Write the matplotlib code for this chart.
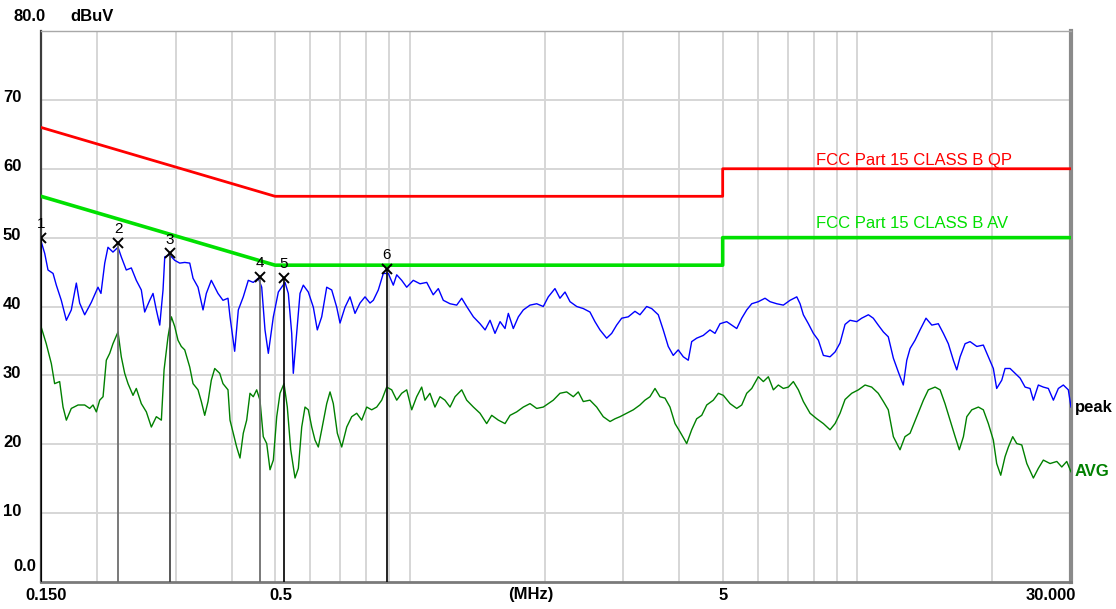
import matplotlib
matplotlib.use("Agg")
import matplotlib.pyplot as plt
import matplotlib.transforms as mtransforms

# -----------------------------
# Chart data
# -----------------------------
qp_freq = [0.15, 0.5, 5.0, 5.0, 30.0]
qp_level = [66, 56, 56, 60, 60]
av_freq = [0.15, 0.5, 5.0, 5.0, 30.0]
av_level = [56, 46, 46, 50, 50]

peak_freq = [
    0.150, 0.1529, 0.1555, 0.1596, 0.1623, 0.1665, 0.1709, 0.1753, 0.1799, 0.1830,
    0.1878, 0.1943, 0.2011, 0.2042, 0.2082, 0.2117, 0.2172, 0.2229, 0.2267, 0.2326,
    0.2387, 0.2449, 0.2513, 0.2557, 0.2624, 0.2669, 0.2715, 0.2763, 0.2810, 0.2835,
    0.2909, 0.2984, 0.3062, 0.3142, 0.3224, 0.3279, 0.3364, 0.3452, 0.3511, 0.3602,
    0.3728, 0.3825, 0.3925, 0.3966, 0.4062, 0.4139, 0.4246, 0.4357, 0.4470, 0.4587,
    0.4668, 0.4748, 0.4830, 0.4956, 0.5085, 0.5263, 0.5353, 0.5447, 0.5492, 0.5589,
    0.5685, 0.5782, 0.5933, 0.6088, 0.6214, 0.6356, 0.6522, 0.6692, 0.6866, 0.6984,
    0.7166, 0.7352, 0.7544, 0.7740, 0.7942, 0.8149, 0.8289, 0.8504, 0.8726, 0.8953,
    0.9186, 0.9349, 0.9592, 0.9842, 1.018, 1.054, 1.091, 1.128, 1.158, 1.188,
    1.230, 1.273, 1.306, 1.340, 1.387, 1.435, 1.473, 1.511, 1.550, 1.591,
    1.632, 1.660, 1.703, 1.748, 1.793, 1.856, 1.921, 1.987, 2.039, 2.110,
    2.165, 2.222, 2.280, 2.360, 2.441, 2.526, 2.592, 2.660, 2.753, 2.825,
    2.898, 2.974, 3.076, 3.184, 3.267, 3.382, 3.470, 3.590, 3.683, 3.779,
    3.877, 3.978, 4.083, 4.189, 4.263, 4.374, 4.525, 4.683, 4.806, 4.932,
    5.105, 5.238, 5.375, 5.515, 5.658, 5.806, 6.006, 6.217, 6.379, 6.603,
    6.831, 7.071, 7.320, 7.445, 7.572, 7.770, 7.972, 8.180, 8.393, 8.686,
    8.913, 9.145, 9.383, 9.627, 9.965, 10.22, 10.58, 10.85, 11.13, 11.43,
    11.72, 12.03, 12.34, 12.66, 12.89, 13.11, 13.45, 13.80, 14.23, 14.66,
    15.16, 15.56, 15.96, 16.38, 16.67, 16.96, 17.40, 17.85, 18.48, 19.11,
    19.61, 20.12, 20.47, 21.01, 21.37, 21.93, 22.50, 23.09, 23.69, 24.30,
    24.72, 25.36, 26.02, 26.70, 27.40, 28.11, 28.84, 29.59, 30.0,
]
peak_level = [
    49.5, 47.7, 45.3, 44.8, 43.1, 40.9, 38.0, 39.5, 43.4, 40.5,
    38.8, 40.6, 42.8, 41.9, 46.3, 48.6, 47.9, 48.6, 47.2, 45.3,
    45.6, 43.8, 42.4, 39.2, 40.9, 41.9, 39.5, 37.3, 42.4, 47.2,
    47.5, 46.7, 46.3, 46.4, 46.3, 44.1, 42.8, 39.5, 41.9, 43.8,
    41.9, 40.9, 41.2, 38.5, 33.5, 39.5, 41.4, 43.8, 43.5, 44.1,
    42.8, 36.6, 33.2, 38.5, 42.1, 43.5, 41.9, 36.1, 30.3, 36.1,
    41.9, 43.1, 42.1, 39.9, 36.6, 38.5, 42.8, 42.4, 39.9, 37.6,
    39.9, 41.4, 39.0, 40.5, 41.4, 40.5, 40.9, 42.4, 44.8, 44.8,
    43.1, 44.6, 43.8, 42.8, 43.8, 43.3, 43.5, 41.7, 42.6, 40.9,
    40.4, 40.2, 41.2, 40.0, 38.5, 37.5, 36.6, 38.0, 36.1, 37.8,
    36.8, 39.0, 36.8, 38.5, 39.5, 40.2, 40.4, 40.0, 41.4, 42.6,
    41.2, 42.1, 40.7, 40.0, 39.7, 39.2, 37.8, 36.6, 35.4, 36.1,
    37.3, 38.3, 38.5, 39.3, 38.8, 40.0, 39.7, 38.8, 36.6, 34.2,
    32.9, 33.7, 32.7, 32.2, 34.9, 35.4, 35.8, 36.6, 36.1, 37.5,
    37.8, 37.3, 36.8, 38.3, 39.5, 40.4, 40.7, 41.2, 40.7, 40.4,
    40.2, 40.9, 41.4, 40.4, 38.8, 37.5, 36.1, 35.1, 32.9, 32.7,
    33.4, 34.7, 37.4, 38.0, 37.8, 38.3, 38.8, 38.3, 37.3, 36.3,
    35.6, 32.5, 30.5, 28.6, 32.2, 33.9, 35.1, 36.6, 38.3, 37.3,
    37.5, 36.1, 34.6, 32.2, 30.8, 32.7, 34.6, 34.9, 34.2, 34.4,
    32.7, 31.0, 28.1, 29.3, 31.0, 31.0, 30.3, 29.6, 28.3, 28.1,
    26.4, 28.6, 28.3, 28.1, 26.4, 28.1, 28.6, 27.9, 25.4,
]

avg_freq = [
    0.150, 0.1541, 0.1582, 0.1609, 0.1651, 0.1680, 0.1709, 0.1753, 0.1815, 0.1878,
    0.1927, 0.1960, 0.1994, 0.2029, 0.2064, 0.2099, 0.2136, 0.2172, 0.2229, 0.2267,
    0.2307, 0.2347, 0.2408, 0.2449, 0.2513, 0.2579, 0.2646, 0.2715, 0.2786, 0.2825,
    0.2883, 0.2933, 0.2984, 0.3035, 0.3087, 0.3142, 0.3224, 0.3279, 0.3364, 0.3422,
    0.3482, 0.3542, 0.3602, 0.3666, 0.3761, 0.3825, 0.3925, 0.3966, 0.4033, 0.4104,
    0.4175, 0.4246, 0.4321, 0.4395, 0.4470, 0.4549, 0.4627, 0.4706, 0.4790, 0.4872,
    0.4956, 0.5043, 0.5129, 0.5236, 0.5325, 0.5420, 0.5541, 0.5636, 0.5735, 0.5833,
    0.5933, 0.6038, 0.6141, 0.6246, 0.6356, 0.6522, 0.6634, 0.6747, 0.6888, 0.7045,
    0.7229, 0.7417, 0.7610, 0.7809, 0.8012, 0.8220, 0.8435, 0.8654, 0.8880, 0.9111,
    0.9349, 0.9592, 0.9842, 1.010, 1.036, 1.063, 1.081, 1.109, 1.138, 1.168,
    1.198, 1.230, 1.262, 1.306, 1.340, 1.387, 1.435, 1.485, 1.524, 1.577,
    1.632, 1.675, 1.733, 1.793, 1.856, 1.921, 1.987, 2.039, 2.092, 2.165,
    2.241, 2.319, 2.379, 2.441, 2.526, 2.615, 2.705, 2.801, 2.874, 2.948,
    3.051, 3.157, 3.267, 3.352, 3.440, 3.530, 3.621, 3.716, 3.813, 3.913,
    4.015, 4.155, 4.263, 4.374, 4.489, 4.606, 4.765, 4.890, 5.017, 5.193,
    5.375, 5.515, 5.658, 5.806, 6.006, 6.164, 6.324, 6.489, 6.658, 6.831,
    7.009, 7.192, 7.380, 7.572, 7.838, 8.113, 8.393, 8.686, 8.913, 9.145,
    9.383, 9.711, 10.05, 10.40, 10.76, 11.13, 11.43, 11.72, 12.03, 12.45,
    12.77, 13.11, 13.57, 14.04, 14.40, 14.91, 15.30, 15.69, 16.10, 16.53,
    16.89, 17.25, 17.55, 18.01, 18.63, 19.11, 19.61, 20.12, 20.47, 20.90,
    21.37, 21.74, 22.23, 22.69, 23.29, 23.90, 24.72, 25.36, 26.02, 26.94,
    27.89, 28.61, 29.35, 30.0,
]
avg_level = [
    37.1, 34.6, 31.7, 28.8, 29.1, 25.4, 23.5, 25.2, 25.7, 25.7,
    25.2, 25.7, 24.7, 26.4, 26.9, 32.2, 33.2, 34.6, 36.3, 32.7,
    30.3, 28.8, 27.1, 28.1, 25.9, 24.7, 22.5, 24.0, 23.5, 30.8,
    35.6, 38.5, 37.1, 35.1, 34.2, 33.7, 31.2, 28.8, 27.9, 26.2,
    24.2, 26.2, 29.3, 31.0, 30.3, 28.8, 27.9, 23.5, 21.6, 19.6,
    18.0, 21.6, 23.5, 27.4, 26.9, 27.9, 26.4, 21.1, 20.1, 16.3,
    17.7, 24.0, 27.4, 28.8, 25.4, 19.2, 15.1, 16.5, 22.5, 25.4,
    25.0, 22.5, 20.6, 19.6, 22.1, 25.9, 27.6, 25.9, 21.6, 19.6,
    22.5, 24.0, 24.5, 23.5, 25.4, 25.0, 25.4, 26.4, 28.3, 27.9,
    26.4, 27.4, 27.9, 25.0, 26.9, 28.3, 26.4, 27.4, 25.4, 26.9,
    26.4, 25.4, 26.9, 27.9, 26.4, 25.4, 24.5, 23.0, 24.2, 23.5,
    23.0, 24.2, 24.7, 25.4, 25.9, 25.2, 25.4, 25.9, 26.4, 27.4,
    27.6, 26.9, 27.6, 26.2, 26.4, 25.4, 24.0, 23.3, 23.7, 24.0,
    24.5, 25.0, 25.7, 26.4, 26.9, 28.1, 26.9, 26.7, 25.4, 23.0,
    21.8, 20.1, 22.1, 23.7, 24.2, 25.7, 26.4, 27.4, 27.1, 25.9,
    25.2, 25.7, 27.4, 28.1, 29.8, 29.1, 29.8, 27.9, 28.6, 28.1,
    28.3, 29.1, 27.9, 26.2, 24.5, 23.7, 23.0, 22.1, 23.0, 24.5,
    26.5, 27.4, 27.9, 28.6, 28.3, 27.4, 26.2, 25.0, 21.1, 19.2,
    21.1, 21.6, 24.0, 26.4, 27.9, 28.3, 27.9, 25.9, 23.5, 21.1,
    19.2, 21.1, 24.0, 25.0, 25.4, 25.0, 23.0, 20.6, 17.2, 15.5,
    18.2, 19.6, 21.1, 20.1, 19.9, 17.2, 15.1, 16.5, 17.7, 17.2,
    17.5, 16.7, 17.5, 16.0,
]

marker_ids = ["1", "2", "3", "4", "5", "6"]
marker_freq = [0.150, 0.223, 0.291, 0.463, 0.523, 0.889]
marker_level = [49.9, 49.2, 47.7, 44.3, 44.1, 45.4]
marker_line_colors = ["#000000", "#6e6e6e", "#4a4a4a", "#6e6e6e", "#111111", "#111111"]

y_tick_values = [80, 70, 60, 50, 40, 30, 20, 10, 0]
y_tick_labels = ["80.0", "70", "60", "50", "40", "30", "20", "10", "0.0"]
x_tick_values = [0.15, 0.5, 5, 30]
x_tick_labels = ["0.150", "0.5", "5", "30.000"]

# -----------------------------
# Figure
# -----------------------------
W, H = 1116, 609
fig = plt.figure(figsize=(W / 100, H / 100), dpi=100)
ax = fig.add_axes([41 / W, 27 / H, 1030 / W, 551 / H])
ax.set_xscale("log")
ax.set_xlim(0.15, 30)
ax.set_ylim(0, 80)

# grid
grid_c = "#d6d6d6"
for lv in range(10, 80, 10):
    ax.axhline(lv, color=grid_c, lw=1.4, zorder=0)
vgrid = [0.2, 0.3, 0.4, 0.5, 0.6, 0.7, 0.8, 0.9, 1, 2, 3, 4, 5, 6, 7, 8, 9, 10, 20]
for fx in vgrid:
    ax.axvline(fx, color=grid_c, lw=1.4, zorder=0)

ax.set_xticks([])
ax.set_yticks([])
ax.minorticks_off()
ax.tick_params(which="both", length=0, labelbottom=False, labelleft=False)

ax.spines["left"].set_color("#3c3c3c")
ax.spines["left"].set_linewidth(1.6)
ax.spines["bottom"].set_color("#7a7a7a")
ax.spines["bottom"].set_linewidth(2)
ax.spines["right"].set_color("#8a8a8a")
ax.spines["right"].set_linewidth(3)
ax.spines["top"].set_color("#a8a8a8")
ax.spines["top"].set_linewidth(1)

# traces
ax.plot(avg_freq, avg_level, color="#008000", lw=1.0, zorder=3)
ax.plot(peak_freq, peak_level, color="#0000ff", lw=1.0, zorder=3)

# limit lines
ax.plot(qp_freq, qp_level, color="#ff0000", lw=2.0, zorder=4)
ax.plot(av_freq, av_level, color="#00e000", lw=2.6, zorder=4)

# markers
for mid, mf, ml, mc in zip(marker_ids, marker_freq, marker_level, marker_line_colors):
    ax.vlines(mf, 0, ml, color=mc, lw=1.3, zorder=5)
    ax.plot([mf], [ml], marker="x", color="black", ms=7, mew=1.4, zorder=6)
    ax.annotate(mid, (mf, ml), xytext=(0, 10), textcoords="offset points",
                ha="center", va="center", fontsize=11, family="Liberation Sans",
                zorder=6)

font = dict(family="Liberation Sans", fontsize=12)
lbl_font = dict(family="Liberation Sans", fontsize=12, fontweight="bold")

tr_fig_data = mtransforms.blended_transform_factory(fig.transFigure, ax.transData)


def fig_x(px):
    return px / W


# limit labels
ax.text(fig_x(816), 61.2, "FCC Part 15 CLASS B QP", color="#ff0000",
        transform=tr_fig_data, ha="left", va="center", **font)
ax.text(fig_x(816), 52.0, "FCC Part 15 CLASS B AV", color="#00e000",
        transform=tr_fig_data, ha="left", va="center", **font)

# trace names at right edge
ax.text(fig_x(1075), 25.3, "peak", color="black", transform=tr_fig_data,
        ha="left", va="center", **lbl_font)
ax.text(fig_x(1075), 16.0, "AVG", color="#008000", transform=tr_fig_data,
        ha="left", va="center", **lbl_font)

# y labels
for val, lab in zip(y_tick_values, y_tick_labels):
    if lab == "80.0":
        ax.text(fig_x(13), 82.1, lab, transform=tr_fig_data, ha="left", va="center", **lbl_font)
    elif lab == "0.0":
        ax.text(fig_x(13), 2.25, lab, transform=tr_fig_data, ha="left", va="center", **lbl_font)
    else:
        ax.text(fig_x(3), val + 0.3, lab, transform=tr_fig_data, ha="left", va="center", **lbl_font)
ax.text(fig_x(70), 82.1, "dBuV", transform=tr_fig_data, ha="left", va="center", **lbl_font)

# x labels
tr_data_fig = mtransforms.blended_transform_factory(ax.transData, fig.transFigure)
x_offsets = [5, 6, 0, -20]
for val, lab, off in zip(x_tick_values, x_tick_labels, x_offsets):
    t = mtransforms.offset_copy(tr_data_fig, fig=fig, x=off, y=0, units="dots")
    ax.text(val, (H - 595) / H, lab, transform=t, ha="center", va="center", **lbl_font)
ax.text(531 / W, (H - 595) / H, "(MHz)", transform=fig.transFigure,
        ha="center", va="center", **lbl_font)

fig.savefig("out.png", dpi=100)
